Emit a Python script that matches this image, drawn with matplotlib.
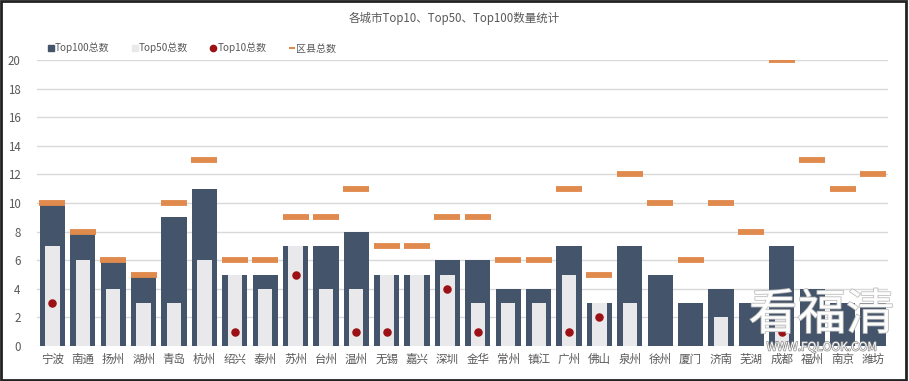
import matplotlib
matplotlib.use("Agg")
import matplotlib.pyplot as plt
import matplotlib.patheffects as pe
from matplotlib.lines import Line2D
from matplotlib.patches import Rectangle
import numpy as np

plt.rcParams['font.family'] = ['Noto Sans CJK SC', 'DejaVu Sans']

cities = ["宁波", "南通", "扬州", "湖州", "青岛", "杭州", "绍兴", "泰州", "苏州", "台州",
          "温州", "无锡", "嘉兴", "深圳", "金华", "常州", "镇江", "广州", "佛山", "泉州",
          "徐州", "厦门", "济南", "芜湖", "成都", "福州", "南京", "潍坊"]
top100 = [10, 8, 6, 5, 9, 11, 5, 5, 7, 7, 8, 5, 5, 6, 6, 4, 4, 7, 3, 7, 5, 3, 4, 3, 7, 4, 3, 3]
top50 = [7, 6, 4, 3, 3, 6, 5, 4, 7, 4, 4, 5, 5, 5, 3, 3, 3, 5, 3, 3, 0, 0, 2, 0, 2, 0, 0, 0]
top10 = [3, None, None, None, None, None, 1, None, 5, None, 1, 1, None, 4, 1, None, None, 1, 2, None,
         None, None, None, None, 1, None, None, None]
districts = [10, 8, 6, 5, 10, 13, 6, 6, 9, 9, 11, 7, 7, 9, 9, 6, 6, 11, 5, 12, 10, 6, 10, 8, 20, 13, 11, 12]
yticks = [0, 2, 4, 6, 8, 10, 12, 14, 16, 18, 20]

c_dark = "#44546a"
c_light = "#e9e9ec"
c_red = "#9b1115"
c_orange = "#e08a4e"
c_text = "#595959"
c_grid = "#d9d9d9"

fig = plt.figure(figsize=(9.09, 3.81), dpi=100)
ax = fig.add_axes([0.041, 0.092, 0.936, 0.750])

x = np.arange(len(cities))
ax.bar(x, top100, width=0.83, color=c_dark, zorder=2)
ax.bar(x, top50, width=0.47, color=c_light, zorder=3)
tx = [i for i, v in enumerate(top10) if v is not None]
ty = [v for v in top10 if v is not None]
ax.scatter(tx, ty, s=26, color=c_red, zorder=5)
ax.plot(x, districts, linestyle='none', marker='_', markersize=18.5,
        markeredgewidth=4.2, color=c_orange, zorder=4)

ax.set_xlim(-0.5, len(cities) - 0.5)
ax.set_ylim(0, 20)
ax.set_yticks(yticks)
ax.set_yticklabels([str(v) for v in yticks])
ax.set_xticks(x)
ax.set_xticklabels(cities)
ax.yaxis.grid(True, color=c_grid, linewidth=1.0, zorder=0)
ax.set_axisbelow(True)
for s in ax.spines.values():
    s.set_visible(False)
ax.tick_params(axis='both', length=0, colors=c_text, labelsize=8.3)
ax.tick_params(axis='y', pad=12)
ax.tick_params(axis='x', pad=5)

fig.text(0.5, 0.952, "各城市Top10、Top50、Top100数量统计", ha='center', va='center',
         fontsize=8.3, color=c_text)

handles = [
    Line2D([], [], linestyle='none', marker='s', markersize=4.5, color=c_dark),
    Line2D([], [], linestyle='none', marker='s', markersize=4.5, color=c_light),
    Line2D([], [], linestyle='none', marker='o', markersize=4.5, color=c_red),
    Line2D([], [], linestyle='none', marker='_', markersize=5, markeredgewidth=1.5, color=c_orange),
]
labels = ["Top100总数", "Top50总数", "Top10总数", "区县总数"]
fig.legend(handles, labels, loc='center left', bbox_to_anchor=(0.043, 0.874), ncol=4,
           frameon=False, fontsize=7.2, labelcolor=c_text, handlelength=0.5,
           handletextpad=0.15, columnspacing=2.3)

# watermark overlay
fig.text(0.904, 0.172, "看福清", ha='center', va='center', fontsize=35, color='white',
         alpha=0.93, path_effects=[pe.withStroke(linewidth=1.2, foreground='#bbbbbb')])
fig.text(0.904, 0.089, "WWW.FQLOOK.COM", ha='center', va='center', fontsize=8.5,
         color='white', path_effects=[pe.withStroke(linewidth=1.0, foreground='#888888')])

fig.patches.append(Rectangle((0.001, 0.002), 0.996, 0.995, transform=fig.transFigure,
                             fill=False, edgecolor='#222222', linewidth=2))

fig.savefig("out.png", dpi=100)
